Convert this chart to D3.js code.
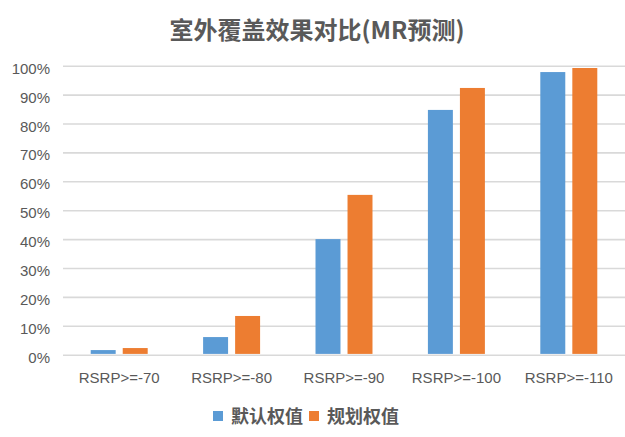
<!DOCTYPE html>
<html>
<head>
<meta charset="utf-8">
<script src="https://cdn.jsdelivr.net/npm/d3@7"></script>
<style>
  body { margin: 0; background: #fff; }
  svg text { fill: #595959; }
</style>
</head>
<body>
<script>
// chart data
var categories = ["RSRP>=-70", "RSRP>=-80", "RSRP>=-90", "RSRP>=-100", "RSRP>=-110"];
var seriesNames = ["默认权值", "规划权值"];
var defaultWeight = [0.016, 0.061, 0.400, 0.847, 0.978];
var plannedWeight = [0.023, 0.134, 0.553, 0.923, 0.992];
var yTicks = [0, 0.1, 0.2, 0.3, 0.4, 0.5, 0.6, 0.7, 0.8, 0.9, 1.0];
var colors = ["#5b9bd5", "#ed7d31"];

var width = 625, height = 437;
var plot = { left: 63, right: 625, top: 65.7, bottom: 354.7 };

var rows = categories.map(function (c, i) {
    return { cat: c, values: [defaultWeight[i], plannedWeight[i]] };
});

var svg = d3.select("body").append("svg")
    .attr("width", width)
    .attr("height", height);

// scales
var x0 = d3.scaleBand()
    .domain(categories)
    .range([plot.left, plot.right])
    .paddingInner(0.493)
    .paddingOuter(0.2465);

var x1 = d3.scaleBand()
    .domain(d3.range(seriesNames.length))
    .range([0, x0.bandwidth()])
    .paddingInner(0.22);

var y = d3.scaleLinear()
    .domain([0, 1])
    .range([plot.bottom, plot.top]);

// gridlines
var grid = svg.append("g")
    .attr("transform", "translate(" + plot.left + ",0)")
    .call(d3.axisLeft(y).tickValues(yTicks).tickSize(-(plot.right - plot.left)).tickFormat(""));
grid.select(".domain").remove();
grid.selectAll("line").attr("stroke", "#d9d9d9").attr("stroke-width", 1.6);

// y axis labels
var yAxis = svg.append("g")
    .attr("transform", "translate(" + plot.left + ",0)")
    .call(d3.axisLeft(y).tickValues(yTicks).tickSize(0).tickPadding(13).tickFormat(d3.format(".0%")));
yAxis.select(".domain").remove();
yAxis.selectAll("text")
    .attr("dy", "7.5px")
    .style("font-family", "'Liberation Sans', Arial, sans-serif")
    .style("font-size", "15px");

// bars
var groups = svg.append("g").selectAll("g")
    .data(rows)
    .enter().append("g")
    .attr("transform", function (d) { return "translate(" + x0(d.cat) + ",0)"; });

groups.selectAll("rect")
    .data(function (d) { return d.values; })
    .enter().append("rect")
    .attr("x", function (d, i) { return x1(i); })
    .attr("width", x1.bandwidth())
    .attr("y", function (d) { return y(d); })
    .attr("height", function (d) { return plot.bottom - 0.8 - y(d); })
    .attr("fill", function (d, i) { return colors[i]; });

// x axis labels
var xAxis = svg.append("g")
    .attr("transform", "translate(0," + plot.bottom + ")")
    .call(d3.axisBottom(x0).tickSize(0).tickPadding(0));
xAxis.select(".domain").remove();
xAxis.selectAll("text")
    .attr("y", 28.5)
    .attr("dy", 0)
    .style("font-family", "'Liberation Sans', Arial, sans-serif")
    .style("font-size", "15px");

// title
svg.append("text")
    .attr("x", 317)
    .attr("y", 38.5)
    .attr("text-anchor", "middle")
    .style("font-family", "'Noto Sans CJK SC', sans-serif")
    .style("font-weight", "bold")
    .style("font-size", "24px")
    .text("室外覆盖效果对比(MR预测)");

// legend
var legendX = [213, 309];
var legend = svg.append("g").selectAll("g")
    .data(seriesNames)
    .enter().append("g")
    .attr("transform", function (d, i) { return "translate(" + legendX[i] + ",411)"; });

legend.append("rect")
    .attr("width", 10)
    .attr("height", 10)
    .attr("fill", function (d, i) { return colors[i]; });

legend.append("text")
    .attr("x", 18)
    .attr("y", 12)
    .style("font-family", "'Noto Sans CJK SC', sans-serif")
    .style("font-weight", "bold")
    .style("font-size", "18px")
    .text(function (d) { return d; });
</script>
</body>
</html>
